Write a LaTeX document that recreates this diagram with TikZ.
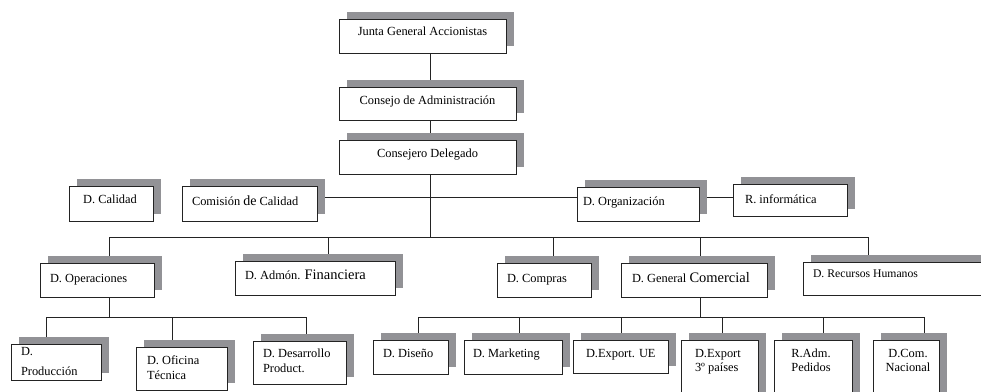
\documentclass[tikz,border=0pt]{standalone}
\usepackage{fontspec}
\setmainfont{Liberation Serif}
\usetikzlibrary{shadows,backgrounds}
\definecolor{shadowgray}{RGB}{146,146,150}
\definecolor{linecol}{RGB}{35,35,35}
\tikzset{
  orgbox/.style={draw=linecol, fill=white, line width=1pt, inner sep=0pt, outer sep=0pt,
    general shadow={fill=shadowgray, shadow xshift=7.5pt, shadow yshift=7.5pt}},
  conn/.style={draw=linecol, line width=0.8pt},
  lbl/.style={inner sep=0pt, outer sep=0pt, font=\fontsize{12.4}{14}\selectfont},
}
\newcommand\obox[5]{\node[orgbox, minimum width={(#4-#2)*1pt}, minimum height={(#5-#3)*1pt}] (#1) at ({(#2+#4)/2},{(#3+#5)/2}) {};}
\newcommand\bigtxt[1]{{\fontsize{14.5}{16}\selectfont #1}}
\begin{document}
\begin{tikzpicture}[x=1pt,y=-1pt]
\path[use as bounding box, clip] (0,0) rectangle (981,391);
% boxes
\obox{junta}{339}{19}{506}{53}
\obox{consejo}{339}{87}{516}{120}
\obox{delegado}{339}{140}{516}{174}
\obox{calidad}{69}{186}{153}{221}
\obox{comision}{182}{186}{317}{221}
\obox{organizacion}{577}{187}{699}{221}
\obox{informatica}{733}{184}{847}{216}
\obox{operaciones}{40}{263}{154}{297}
\obox{financiera}{235}{261}{395}{295}
\obox{compras}{497}{263}{591}{297}
\obox{comercial}{621}{263}{767}{297}
\obox{rrhh}{803}{262}{995}{295}
\obox{produccion}{11}{344}{101}{380}
\obox{oficina}{136}{347}{227}{390}
\obox{desarrollo}{253}{341}{346}{384}
\obox{diseno}{373}{340}{448}{374}
\obox{marketing}{464}{340}{562}{374}
\obox{exportue}{573}{340}{668}{373}
\obox{exporttres}{681}{340}{758}{400}
\obox{pedidos}{774}{340}{852}{400}
\obox{nacional}{873}{340}{939}{400}
% labels
\node[lbl, anchor=base] (tjunta) at (422.5,35) {Junta General Accionistas};
\node[lbl, anchor=base] (tconsejo) at (427.5,104) {Consejo de Administración};
\node[lbl, anchor=base] (tdelegado) at (427.5,157) {Consejero Delegado};
\node[lbl, anchor=base] (tcalidad) at (110,203) {D. Calidad};
\node[lbl, anchor=base west] (tcomision) at (192,205) {Comisión {\fontsize{14}{16}\selectfont de} Calidad};
\node[lbl, anchor=base west] (torg) at (583,205) {D. Organización};
\node[lbl, anchor=base west] (tinf) at (745,203) {R. informática};
\node[lbl, anchor=base west] (toper) at (50,282) {D. Operaciones};
\node[lbl, anchor=base west] (tfin) at (245,279) {D. Admón. \bigtxt{Financiera}};
\node[lbl, anchor=base west] (tcompras) at (507,282) {D. Compras};
\node[lbl, anchor=base west] (tcomercial) at (632,282) {D. General \bigtxt{Comercial}};
\node[lbl, anchor=base west, font=\fontsize{11.7}{13}\selectfont] (trrhh) at (813,277) {D. Recursos Humanos};
\node[lbl, anchor=base west] (tprod1) at (21,355) {D.};
\node[lbl, anchor=base west] (tprod2) at (21,375) {Producción};
\node[lbl, anchor=base west] (tofi1) at (147,364) {D. Oficina};
\node[lbl, anchor=base west] (tofi2) at (147,379) {Técnica};
\node[lbl, anchor=base west] (tdes1) at (263,357) {D. Desarrollo};
\node[lbl, anchor=base west] (tdes2) at (263,372) {Product.};
\node[lbl, anchor=base west] (tdis) at (383,357) {D. Diseño};
\node[lbl, anchor=base west] (tmkt) at (473,357) {D. Marketing};
\node[lbl, anchor=base west] (tue) at (586,357) {D.Export. UE};
\node[lbl, anchor=base west] (tex1) at (695,357) {D.Export};
\node[lbl, anchor=base west] (tex2) at (695,371) {3º países};
\node[lbl, anchor=base] (tped1) at (811,357) {R.Adm.};
\node[lbl, anchor=base] (tped2) at (811,371) {Pedidos};
\node[lbl, anchor=base] (tnac1) at (908,357) {D.Com.};
\node[lbl, anchor=base] (tnac2) at (908,371) {Nacional};
% connectors
\begin{scope}[on background layer]
\fill[white] (0,0) rectangle (981,391);
\coordinate (sp) at (430,237);
\coordinate (hq) at (430,197);
\draw[conn] (junta.south -| sp) -- (consejo.north -| sp);
\draw[conn] (consejo.south -| sp) -- (delegado.north -| sp);
\draw[conn] (delegado.south -| sp) -- (sp);
\draw[conn] (comision.east |- hq) -- (organizacion.west |- hq);
\draw[conn] (organizacion.east |- hq) -- (informatica.west |- hq);
\coordinate (b1) at (109,237);
\coordinate (b2) at (328,237);
\coordinate (b3) at (553,237);
\coordinate (b4) at (700,237);
\coordinate (b5) at (868,237);
\draw[conn] (b1) -- (b5);
\draw[conn] (b1) -- (b1 |- operaciones.north);
\draw[conn] (b2) -- (b2 |- financiera.north);
\draw[conn] (b3) -- (b3 |- compras.north);
\draw[conn] (b4) -- (b4 |- comercial.north);
\draw[conn] (b5) -- (b5 |- rrhh.north);
% operaciones
\coordinate (ob) at (109,317);
\coordinate (o1) at (46,317);
\coordinate (o2) at (172,317);
\coordinate (o3) at (306,317);
\draw[conn] (operaciones.south -| ob) -- (ob);
\draw[conn] (o1) -- (o3);
\draw[conn] (o1) -- (o1 |- produccion.north);
\draw[conn] (o2) -- (o2 |- oficina.north);
\draw[conn] (o3) -- (o3 |- desarrollo.north);
% comercial
\coordinate (cb) at (700,317);
\coordinate (c1) at (418,317);
\coordinate (c2) at (519,317);
\coordinate (c3) at (621,317);
\coordinate (c4) at (722,317);
\coordinate (c5) at (823,317);
\coordinate (c6) at (924,317);
\draw[conn] (comercial.south -| cb) -- (cb);
\draw[conn] (c1) -- (c6);
\draw[conn] (c1) -- (c1 |- diseno.north);
\draw[conn] (c2) -- (c2 |- marketing.north);
\draw[conn] (c3) -- (c3 |- exportue.north);
\draw[conn] (c4) -- (c4 |- exporttres.north);
\draw[conn] (c5) -- (c5 |- pedidos.north);
\draw[conn] (c6) -- (c6 |- nacional.north);
\end{scope}
\end{tikzpicture}
\end{document}
